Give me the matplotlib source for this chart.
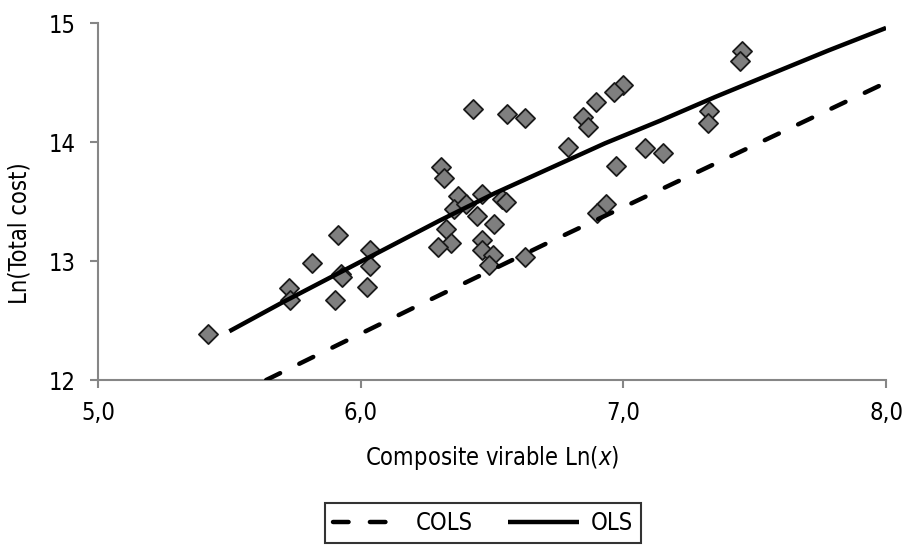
import matplotlib
matplotlib.use("Agg")
import matplotlib.pyplot as plt

plt.rcParams["font.family"] = ["DejaVu Sans"]
plt.rcParams["font.stretch"] = "condensed"

# observed firms
obs_x = [7.451, 7.445, 6.999, 6.966, 6.897, 6.428, 6.557, 6.624, 6.847, 6.864,
         7.325, 7.321, 6.789, 7.081, 7.151, 6.970, 6.307, 6.317, 6.370, 6.462,
         6.538, 6.552, 6.355, 6.400, 6.441, 6.507, 6.323, 6.342, 6.295, 6.462,
         6.462, 6.504, 6.488, 6.624, 6.935, 6.900, 5.419, 5.727, 5.731, 5.814,
         5.914, 5.924, 5.930, 5.902, 6.035, 6.034, 6.023]
obs_y = [14.77, 14.68, 14.48, 14.42, 14.34, 14.28, 14.24, 14.20, 14.21, 14.13,
         14.26, 14.16, 13.96, 13.95, 13.91, 13.80, 13.79, 13.70, 13.55, 13.56,
         13.52, 13.50, 13.44, 13.48, 13.38, 13.31, 13.27, 13.15, 13.12, 13.18,
         13.09, 13.05, 12.97, 13.03, 13.48, 13.40, 12.39, 12.77, 12.67, 12.98,
         13.22, 12.89, 12.87, 12.67, 13.09, 12.96, 12.78]

# fitted frontiers
ols_x = [5.50, 5.70, 5.90, 6.10, 6.30, 6.51, 6.72, 6.93, 7.14, 7.35, 7.57, 7.78, 8.00]
ols_y = [12.41, 12.65, 12.88, 13.11, 13.34, 13.57, 13.78, 13.99, 14.18, 14.38, 14.58, 14.77, 14.96]
cols_x = [5.64, 6.25, 6.70, 7.15, 7.58, 8.00]
cols_y = [12.00, 12.66, 13.14, 13.61, 14.06, 14.50]

x_ticks = [5, 6, 7, 8]
x_tick_labels = ["5,0", "6,0", "7,0", "8,0"]
y_ticks = [12, 13, 14, 15]

fig = plt.figure(figsize=(9.06, 5.49), dpi=100)
ax = fig.add_axes([0.1082, 0.3078, 0.8698, 0.650])

ax.scatter(obs_x, obs_y, marker="D", s=95, facecolor="#7f7f7f",
           edgecolor="#1a1a1a", linewidth=1.3, zorder=2, clip_on=False)
cols_line, = ax.plot(cols_x, cols_y, color="black", linewidth=3.2,
                     dashes=(3.5, 4.8), dash_capstyle="round", zorder=3,
                     label="COLS")
ols_line, = ax.plot(ols_x, ols_y, color="black", linewidth=3.2,
                    solid_capstyle="butt", solid_joinstyle="round", zorder=3,
                    label="OLS")

ax.set_xlim(5, 8)
ax.set_ylim(12, 15)
ax.set_xticks(x_ticks)
ax.set_xticklabels(x_tick_labels)
ax.set_yticks(y_ticks)

for side in ["top", "right"]:
    ax.spines[side].set_visible(False)
for side in ["left", "bottom"]:
    ax.spines[side].set_color("#868686")
    ax.spines[side].set_linewidth(1.5)
ax.tick_params(axis="both", direction="out", length=6, width=1.5,
               color="#868686", labelsize=17, labelcolor="black")
ax.tick_params(axis="x", pad=9)
ax.tick_params(axis="y", pad=10)

fig.text(492 / 906, 1 - 458 / 549, "Composite virable Ln($\\mathit{x}$)",
         fontsize=17, ha="center", va="center")
fig.text(20 / 906, 1 - 233 / 549, "Ln(Total cost)", fontsize=17,
         rotation=90, ha="center", va="center")

leg = fig.legend(handles=[cols_line, ols_line], loc="center",
                 bbox_to_anchor=(483 / 906, 1 - 523 / 549), ncol=2,
                 fontsize=17, frameon=True, fancybox=False,
                 handlelength=3.0, handletextpad=0.5, columnspacing=1.5,
                 borderpad=0.35, borderaxespad=0)
leg.get_frame().set_edgecolor("black")
leg.get_frame().set_linewidth(1.5)

fig.savefig("out.png", dpi=100)
